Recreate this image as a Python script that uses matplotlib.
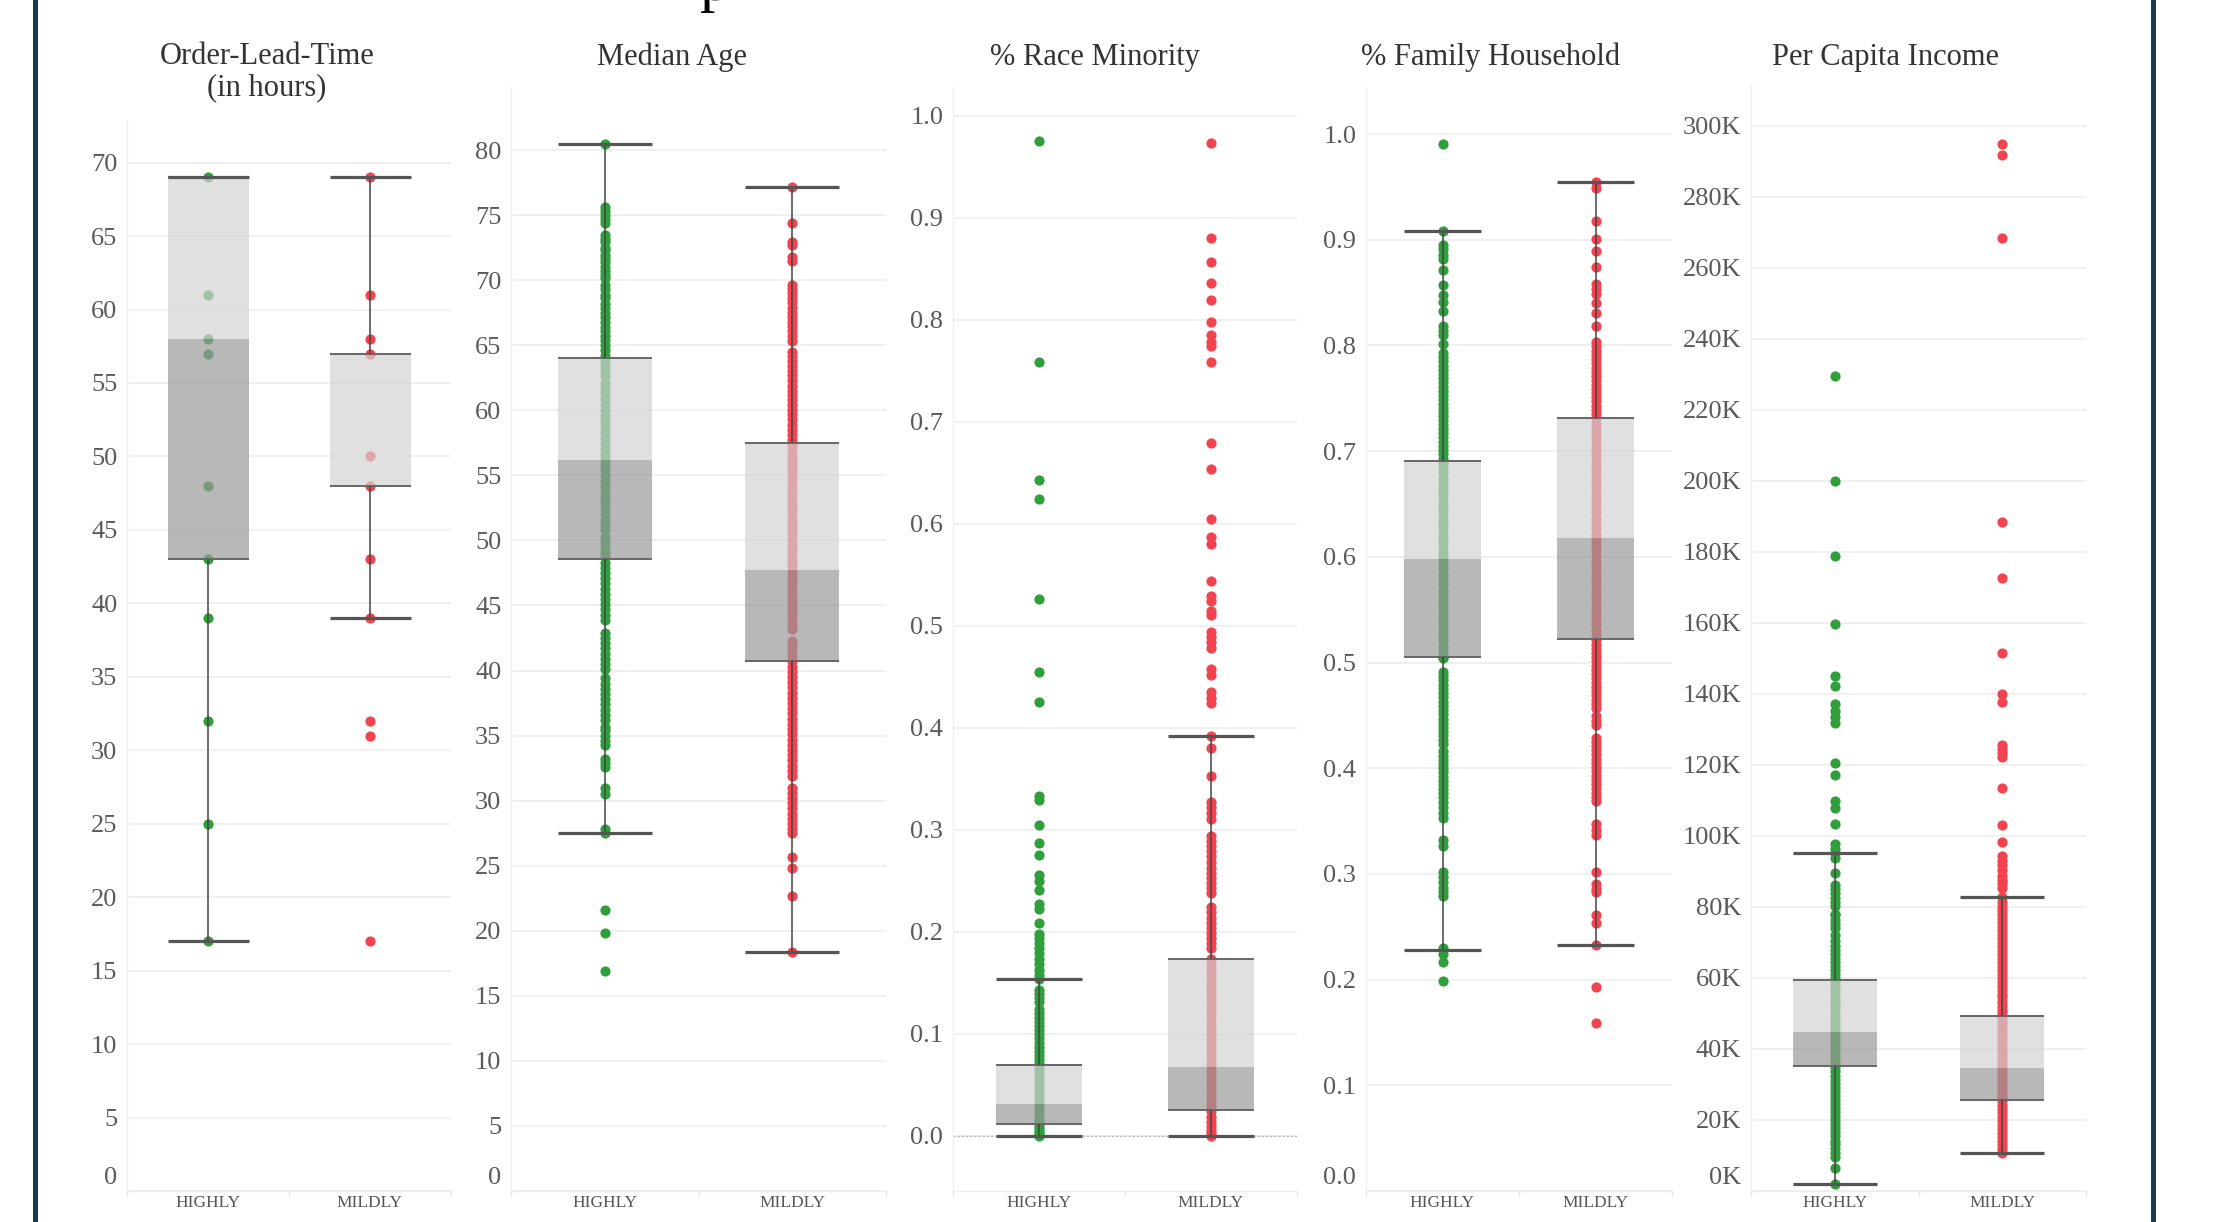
import matplotlib
matplotlib.use('Agg')
import matplotlib.pyplot as plt
import matplotlib.transforms as mtrans
from matplotlib.lines import Line2D
from matplotlib.ticker import FuncFormatter

plt.rcParams['font.family'] = ['Liberation Serif', 'DejaVu Serif']

categories = ['HIGHLY', 'MILDLY']
titles = ['Order-Lead-Time\n(in hours)', 'Median Age', '% Race Minority',
          '% Family Household', 'Per Capita Income']

# ---- Order-Lead-Time (hours)
olt_highly = [69, 61, 58, 57, 48, 43, 39, 32, 25, 17]
olt_mildly = [69, 61, 58, 57, 50, 48, 43, 39, 32, 31, 17]
olt_q1 = [43, 48]
olt_med = [58, 48]
olt_q3 = [69, 57]
olt_lo = [17, 39]
olt_hi = [69, 69]

# ---- Median Age
age_highly = [80.5, 75.6, 75.3, 75.0, 74.7, 74.4,
              73.5, 73.2, 72.9, 72.5, 72.3, 71.9, 71.7, 71.4, 71.0, 70.7, 70.4, 70.2,
              69.6, 69.3, 68.9, 68.6, 68.2, 67.9, 67.5, 67.2, 66.8, 66.4, 66.1, 65.7,
              65.4, 65.0, 64.6, 64.2, 63.8, 63.4, 63.0, 62.6, 62.1, 61.7, 61.3, 60.9,
              60.4, 60.0, 59.6, 59.2, 58.7, 58.3, 57.9, 57.4, 57.0, 56.6, 56.2, 55.8,
              55.4, 55.0, 54.6, 54.1, 53.7, 53.3, 52.9, 52.5, 52.0, 51.6, 51.2, 50.8,
              50.3, 49.9, 49.5, 49.1, 48.7, 48.3, 47.9, 47.5, 47.1, 46.7, 46.3, 45.9,
              45.5, 45.1, 44.7, 44.3, 43.9, 42.9, 42.5, 42.1, 41.7, 41.3, 40.9, 40.5,
              40.1, 39.4, 39.0, 38.6, 38.2, 37.8, 37.4, 37.0, 36.6, 36.2, 35.7, 35.4,
              35.0, 34.6, 34.3, 33.2, 32.9, 32.6, 31.0, 30.5, 27.8, 27.5,
              21.6, 19.8, 16.9]
age_mildly = [77.2, 74.4, 72.9, 72.7, 71.8, 71.5, 69.6, 69.3, 69.0, 68.6, 68.3, 67.9,
              67.5, 67.2, 66.8, 66.5, 66.1, 65.7, 65.3, 64.5, 64.2, 63.8, 63.4, 63.0,
              62.7, 62.3, 61.9, 61.5, 61.2, 60.8, 60.4, 60.0, 59.7, 59.3, 58.9, 58.5,
              58.1, 57.7, 57.3, 56.9, 56.5, 56.1, 55.7, 55.3, 54.9, 54.5, 54.0, 53.6,
              53.2, 52.8, 52.4, 52.0, 51.6, 51.2, 50.8, 50.4, 50.0, 49.6, 49.2, 48.8,
              48.4, 48.0, 47.6, 47.2, 46.8, 46.4, 46.0, 45.6, 45.2, 44.8, 44.4, 44.0,
              43.6, 43.2, 42.3, 41.9, 41.5, 41.1, 40.7, 40.3, 39.9, 39.5, 39.1, 38.7,
              38.3, 37.9, 37.5, 37.1, 36.7, 36.3, 35.9, 35.5, 35.1, 34.7, 34.3, 33.9,
              33.5, 33.1, 32.7, 32.3, 31.9, 31.0, 30.6, 30.2, 29.8, 29.4, 29.0, 28.6,
              28.2, 27.8, 27.5, 25.7, 24.8, 22.7, 18.4]
age_q1 = [48.6, 40.7]
age_med = [56.2, 47.7]
age_q3 = [64.0, 57.5]
age_lo = [27.5, 18.4]
age_hi = [80.5, 77.2]

# ---- % Race Minority
race_highly = [0.975, 0.758, 0.643, 0.624, 0.526, 0.455, 0.425, 0.333, 0.329, 0.305,
               0.287, 0.275, 0.256, 0.250, 0.241, 0.227, 0.222, 0.209, 0.198, 0.194,
               0.189, 0.184, 0.179, 0.173, 0.168, 0.163, 0.158, 0.154, 0.143, 0.139,
               0.135, 0.131, 0.124, 0.120, 0.116, 0.112, 0.108, 0.104, 0.100, 0.096,
               0.091, 0.087, 0.083, 0.079, 0.075, 0.071, 0.067, 0.063, 0.059, 0.055,
               0.051, 0.047, 0.043, 0.039, 0.035, 0.031, 0.027, 0.023, 0.019, 0.015,
               0.011, 0.008, 0.005, 0.003, 0.001, 0.0]
race_mildly = [0.973, 0.880, 0.856, 0.836, 0.819, 0.798, 0.785, 0.778, 0.774, 0.758,
               0.679, 0.654, 0.605, 0.587, 0.580, 0.544, 0.529, 0.524, 0.514, 0.511,
               0.494, 0.489, 0.484, 0.478, 0.458, 0.452, 0.435, 0.429, 0.424, 0.392,
               0.380, 0.353, 0.327, 0.322, 0.316, 0.311, 0.294, 0.289, 0.284, 0.279,
               0.274, 0.268, 0.263, 0.258, 0.253, 0.248, 0.243, 0.238, 0.224, 0.219,
               0.214, 0.209, 0.204, 0.199, 0.194, 0.189, 0.184, 0.173, 0.168, 0.163,
               0.158, 0.153, 0.148, 0.144, 0.139, 0.134, 0.129, 0.124, 0.119, 0.114,
               0.109, 0.104, 0.099, 0.094, 0.089, 0.084, 0.079, 0.074, 0.069, 0.064,
               0.059, 0.054, 0.049, 0.044, 0.039, 0.034, 0.029, 0.024, 0.019, 0.014,
               0.010, 0.006, 0.003, 0.0]
race_q1 = [0.012, 0.025]
race_med = [0.031, 0.068]
race_q3 = [0.069, 0.173]
race_lo = [0.0, 0.0]
race_hi = [0.154, 0.392]

# ---- % Family Household
fam_highly = [0.991, 0.908, 0.895, 0.891, 0.886, 0.882, 0.871, 0.857, 0.848, 0.841,
              0.833, 0.818, 0.814, 0.810, 0.801, 0.793, 0.789, 0.785, 0.781, 0.777,
              0.773, 0.769, 0.765, 0.761, 0.757, 0.753, 0.749, 0.745, 0.741, 0.737,
              0.733, 0.729, 0.725, 0.721, 0.717, 0.713, 0.709, 0.705, 0.701, 0.697,
              0.693, 0.689, 0.684, 0.679, 0.674, 0.669, 0.664, 0.659, 0.654, 0.649,
              0.644, 0.639, 0.634, 0.629, 0.624, 0.619, 0.614, 0.609, 0.604, 0.599,
              0.594, 0.589, 0.584, 0.579, 0.574, 0.569, 0.564, 0.559, 0.554, 0.549,
              0.544, 0.539, 0.534, 0.529, 0.525, 0.520, 0.515, 0.510, 0.505, 0.504,
              0.491, 0.487, 0.483, 0.479, 0.475, 0.471, 0.467, 0.463, 0.459, 0.455,
              0.451, 0.447, 0.443, 0.439, 0.435, 0.431, 0.427, 0.423, 0.416, 0.412,
              0.408, 0.404, 0.400, 0.396, 0.392, 0.388, 0.384, 0.380, 0.377, 0.373,
              0.368, 0.363, 0.358, 0.353, 0.332, 0.326, 0.302, 0.297, 0.292, 0.287,
              0.283, 0.279, 0.230, 0.224, 0.217, 0.199]
fam_mildly = [0.955, 0.949, 0.918, 0.901, 0.889, 0.874, 0.858, 0.853, 0.849, 0.840,
              0.831, 0.818, 0.803, 0.799, 0.795, 0.791, 0.787, 0.783, 0.779, 0.775,
              0.771, 0.767, 0.763, 0.759, 0.755, 0.751, 0.747, 0.743, 0.739, 0.735,
              0.731, 0.726, 0.721, 0.716, 0.711, 0.706, 0.701, 0.696, 0.691, 0.686,
              0.681, 0.676, 0.671, 0.666, 0.661, 0.656, 0.651, 0.646, 0.641, 0.636,
              0.631, 0.626, 0.621, 0.616, 0.611, 0.606, 0.601, 0.596, 0.591, 0.586,
              0.581, 0.576, 0.571, 0.566, 0.561, 0.556, 0.551, 0.546, 0.541, 0.536,
              0.531, 0.526, 0.521, 0.517, 0.513, 0.509, 0.505, 0.501, 0.497, 0.493,
              0.489, 0.485, 0.481, 0.477, 0.473, 0.469, 0.465, 0.461, 0.457, 0.449,
              0.445, 0.441, 0.429, 0.425, 0.421, 0.417, 0.413, 0.409, 0.405, 0.401,
              0.397, 0.393, 0.389, 0.385, 0.381, 0.377, 0.373, 0.369, 0.347, 0.342,
              0.337, 0.302, 0.290, 0.286, 0.283, 0.261, 0.254, 0.233, 0.193, 0.159]
fam_q1 = [0.505, 0.522]
fam_med = [0.598, 0.618]
fam_q3 = [0.691, 0.731]
fam_lo = [0.228, 0.233]
fam_hi = [0.908, 0.955]

# ---- Per Capita Income ($)
inc_highly = [229600, 199900, 178800, 159700, 145100, 142300, 137100, 135300, 133600,
              131700, 120600, 117200, 109700, 107800, 103300, 97600, 96400, 95200,
              93700, 89600, 86100, 85000, 83900, 82600, 81500, 80400, 78100, 77600,
              76300, 75200, 74100, 72000, 70300, 69100, 68000, 66800, 65700, 64500,
              63400, 62200, 61100, 60000, 58800, 57700, 56500, 55400, 54200, 53100,
              52000, 50800, 49700, 48500, 47400, 46200, 45100, 44000, 42800, 41700,
              40500, 39400, 38200, 37100, 36000, 34800, 33700, 32500, 31400, 30200,
              29100, 28000, 26800, 25700, 24500, 23400, 22200, 21100, 20000, 18800,
              17700, 16500, 15400, 14200, 13100, 12000, 10800, 9700, 6400, 2100]
inc_mildly = [295000, 291900, 268500, 188300, 172600, 151600, 140100, 137600, 125600,
              124400, 123300, 122200, 113500, 103100, 98200, 94300, 93000, 91700,
              90400, 88700, 87600, 86500, 85400, 82800, 81400, 80200, 79100, 78000,
              76900, 75700, 74600, 73500, 72400, 71300, 70100, 69000, 67900, 66800,
              65700, 64500, 63400, 62300, 61200, 60100, 58900, 57800, 56700, 55600,
              54500, 53300, 52200, 51100, 50000, 48900, 47700, 46600, 45500, 44400,
              43300, 42100, 41000, 39900, 38800, 37700, 36500, 35400, 34300, 33200,
              32100, 30900, 29800, 28700, 27600, 26500, 25300, 24200, 23100, 22000,
              20900, 19700, 18600, 17500, 16400, 15300, 14100, 13000, 11900, 10600]
inc_q1 = [35300, 25700]
inc_med = [44900, 34500]
inc_q3 = [59400, 49200]
inc_lo = [1900, 10600]
inc_hi = [95200, 82800]

panels = [
    dict(pts=[olt_highly, olt_mildly], q1=olt_q1, med=olt_med, q3=olt_q3, lo=olt_lo, hi=olt_hi,
         ylim=(0, 72.9), ticks=[i * 5 for i in range(15)], fmt=lambda v, p: f'{v:.0f}'),
    dict(pts=[age_highly, age_mildly], q1=age_q1, med=age_med, q3=age_q3, lo=age_lo, hi=age_hi,
         ylim=(0, 84.85), ticks=[i * 5 for i in range(17)], fmt=lambda v, p: f'{v:.0f}'),
    dict(pts=[race_highly, race_mildly], q1=race_q1, med=race_med, q3=race_q3, lo=race_lo, hi=race_hi,
         ylim=(-0.054, 1.028), ticks=[i / 10 for i in range(11)], fmt=lambda v, p: f'{v:.1f}'),
    dict(pts=[fam_highly, fam_mildly], q1=fam_q1, med=fam_med, q3=fam_q3, lo=fam_lo, hi=fam_hi,
         ylim=(0, 1.0445), ticks=[i / 10 for i in range(11)], fmt=lambda v, p: f'{v:.1f}'),
    dict(pts=[inc_highly, inc_mildly], q1=inc_q1, med=inc_med, q3=inc_q3, lo=inc_lo, hi=inc_hi,
         ylim=(0, 311200), ticks=[i * 20000 for i in range(16)], fmt=lambda v, p: f'{v / 1000:.0f}K'),
]

W, H, DPI = 2213, 1222, 100
fig = plt.figure(figsize=(W / DPI, H / DPI), dpi=DPI)

# plot areas in pixels: left, top, right, bottom
areas = [(127, 120, 451, 1191), (511, 87, 886, 1191), (953, 87, 1297, 1191),
         (1366, 87, 1672, 1191), (1751, 86, 2086, 1191)]
title_x = [267, 672, 1095, 1491, 1885]

dot_colors = ['#2e9f3b', '#f2434f']
light_box = '#d3d3d3'
dark_box = '#9a9a9a'
line_col = '#555555'
half = 0.25

for k, (pan, (l, t, r, b)) in enumerate(zip(panels, areas)):
    ax = fig.add_axes([l / W, 1 - b / H, (r - l) / W, (b - t) / H])
    xs = [0, 1]
    for i in xs:
        ax.scatter([i] * len(pan['pts'][i]), pan['pts'][i], s=54, color=dot_colors[i],
                   linewidths=0, zorder=2)
    # two-tone boxes drawn over the dots
    ax.bar(xs, [m - q for m, q in zip(pan['med'], pan['q1'])], bottom=pan['q1'],
           width=2 * half, color=dark_box, alpha=0.7, zorder=3, linewidth=0)
    ax.bar(xs, [q - m for q, m in zip(pan['q3'], pan['med'])], bottom=pan['med'],
           width=2 * half, color=light_box, alpha=0.7, zorder=3, linewidth=0)
    ax.hlines(pan['q1'], [x - half for x in xs], [x + half for x in xs], color='#666666', lw=1.4, zorder=4)
    ax.hlines(pan['q3'], [x - half for x in xs], [x + half for x in xs], color='#666666', lw=1.4, zorder=4)
    # whiskers + caps
    ax.vlines(xs, pan['q3'], pan['hi'], color='#444444', lw=1.1, zorder=4)
    ax.vlines(xs, pan['lo'], pan['q1'], color='#444444', lw=1.1, zorder=4)
    ax.hlines(pan['hi'], [x - half for x in xs], [x + half for x in xs], color=line_col, lw=2.3, zorder=5)
    ax.hlines(pan['lo'], [x - half for x in xs], [x + half for x in xs], color=line_col, lw=2.3, zorder=5)

    ax.set_xlim(-0.5, 1.5)
    ax.set_ylim(*pan['ylim'])
    ax.set_xticks(xs)
    ax.set_xticklabels(categories)
    ax.set_xticks([-0.5, 0.5, 1.5], minor=True)
    ax.tick_params(axis='x', which='major', length=0, pad=3, labelsize=12.5, labelcolor='#555555')
    ax.tick_params(axis='x', which='minor', length=3.5, color='#e6e6e6', width=1)
    ax.set_yticks(pan['ticks'])
    ax.yaxis.set_major_formatter(FuncFormatter(pan['fmt']))
    ax.tick_params(axis='y', length=0, pad=7, labelsize=19, labelcolor='#5a5a5a')
    ax.yaxis.grid(True, color='#eeeeee', lw=1.2)
    ax.set_axisbelow(True)
    for s in ['top', 'right']:
        ax.spines[s].set_visible(False)
    for s in ['left', 'bottom']:
        ax.spines[s].set_color('#eeeeee')
        ax.spines[s].set_linewidth(1.0)
    if pan['ylim'][0] < 0:
        ax.axhline(0, color='#bbbbbb', lw=1, ls=(0, (1.5, 1.5)), zorder=1)
    else:
        # lowest label sits a little above the axis floor
        lab = ax.yaxis.get_major_ticks()[0].label1
        lab.set_transform(lab.get_transform() + mtrans.ScaledTranslation(0, 16 / DPI, fig.dpi_scale_trans))

    for j, line in enumerate(titles[k].split('\n')):
        fig.text(title_x[k] / W, 1 - (57 + 31 * j) / H, line, ha='center', va='center',
                 fontsize=22, color='#333333')

# cut-off main title above the frame
fig.text(700 / W, 1.0, 'p', ha='left', va='baseline', fontsize=44, color='black')

# dark side rules
for xpx in [35, 2153]:
    fig.add_artist(Line2D([xpx / W, xpx / W], [0, 1], color='#1b3a4f', lw=3.6))

fig.savefig('out.png', dpi=DPI)
